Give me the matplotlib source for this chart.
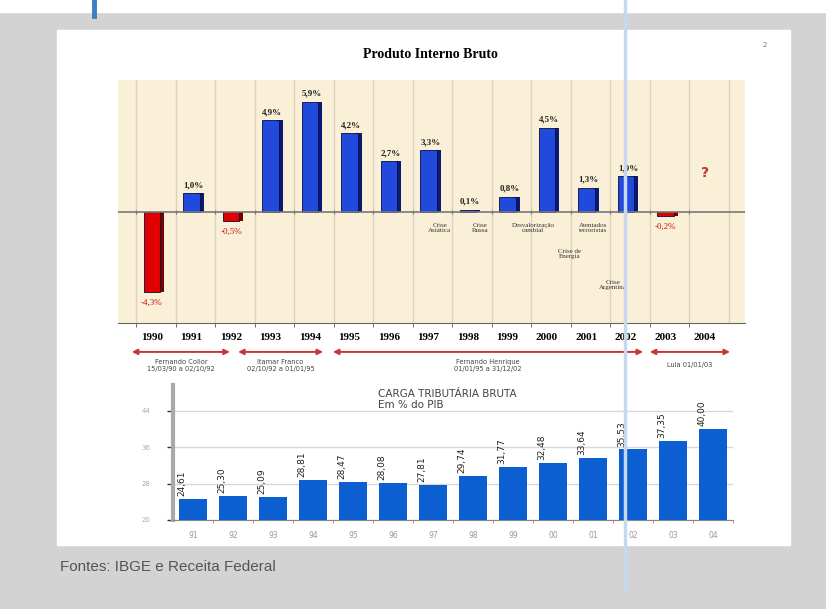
import numpy as np
import matplotlib.pyplot as plt
from matplotlib.patches import Rectangle
from matplotlib.lines import Line2D
import matplotlib.transforms as mtransforms

# PIB (variação anual, %), 1990-2003; 2004 ainda desconhecido
anos = ['1990', '1991', '1992', '1993', '1994', '1995', '1996', '1997',
        '1998', '1999', '2000', '2001', '2002', '2003', '2004']
pib = [-4.3, 1.0, -0.5, 4.9, 5.9, 4.2, 2.7, 3.3, 0.1, 0.8, 4.5, 1.3, 1.9, -0.2]

crises = ['Crise\nAsiática', 'Crise\nRussa', 'Desvalorização\ncambial',
          'Atentados\nterroristas', 'Crise de\nEnergia', 'Crise\nArgentina']

governos = ['Fernando Collor\n15/03/90 a 02/10/92',
            'Itamar Franco\n02/10/92 a 01/01/95',
            'Fernando Henrique\n01/01/95 a 31/12/02',
            'Lula 01/01/03']

# carga tributária bruta (% do PIB)
anos_carga = ['91', '92', '93', '94', '95', '96', '97', '98', '99',
              '00', '01', '02', '03', '04']
carga = [24.61, 25.30, 25.09, 28.81, 28.47, 28.08, 27.81, 29.74, 31.77,
         32.48, 33.64, 35.53, 37.35, 40.00]
carga_ticks = [20, 28, 36, 44]

W, H = 826, 609
fig = plt.figure(figsize=(W / 100, H / 100), dpi=100)

def fx(px):
    return px / W

def fy(py):
    return 1 - py / H

# fundo do slide
bg = fig.add_axes([0, 0, 1, 1])
bg.set_xlim(0, W)
bg.set_ylim(H, 0)
bg.axis('off')
bg.add_patch(Rectangle((0, 0), W, H, color='#d3d3d3', zorder=0))
bg.add_patch(Rectangle((0, 0), W, 12, color='white', zorder=1))
bg.add_patch(Rectangle((57, 30), 733, 515, color='white', zorder=2))
bg.text(765, 45, '2', fontsize=5, color='#777', ha='center', va='center', zorder=3)
bg.text(430, 55, 'Produto Interno Bruto', family='Liberation Serif',
        fontweight='bold', fontsize=10, ha='center', va='center', zorder=3)
bg.text(60, 567, 'Fontes: IBGE e Receita Federal', family='Liberation Sans',
        fontsize=11, color='#555555', ha='left', va='center', zorder=3)

# ---------- grafico do PIB ----------
ax = fig.add_axes([fx(118), fy(323), fx(745) - fx(118), fy(80) - fy(323)])
ax.set_facecolor('#faf0d8')
x = np.arange(len(pib))
ax.set_xlim(-0.86, 15.01)
ax.set_ylim(-5.94, 7.06)

for g in list(np.arange(15) - 0.4) + [14.6]:
    ax.axvline(g, color='#dcd2bf', lw=1, zorder=1)

cores = ['#2149dc' if v >= 0 else '#e00000' for v in pib]
lados = ['#0b1a70' if v >= 0 else '#7a0000' for v in pib]
ax.bar(x + 0.24, pib, width=0.14, color=lados, zorder=2)
ax.bar(x, pib, width=0.42, color=cores, edgecolor='#0a0a40', lw=0.6, zorder=3)
ax.axhline(0, color='#777777', lw=1.2, zorder=4)
ax.vlines(np.arange(15) - 0.4, -0.12, 0.12, color='#777777', lw=0.8, zorder=4)

for i, v in enumerate(pib):
    txt = f'{v:.1f}%'.replace('.', ',')
    if v >= 0:
        ax.annotate(txt, (i + 0.05, v), xytext=(0, 3), textcoords='offset points',
                    ha='center', va='bottom', fontsize=6.5, family='Liberation Serif',
                    fontweight='bold', color='#222222', zorder=5)
    else:
        ax.annotate(txt, (i, v), xytext=(0, -5), textcoords='offset points',
                    ha='center', va='top', fontsize=6.5, family='Liberation Serif',
                    color='#cc1111', zorder=5)
ax.text(14, 2.1, '?', color='#c0392b', fontsize=10, fontweight='bold',
        ha='center', va='center')

pos_crise = [(7.29, -0.86), (8.3, -0.86), (9.65, -0.86), (11.16, -0.86),
             (10.58, -2.25), (11.67, -3.9)]
for t, (cx, cy) in zip(crises, pos_crise):
    ax.text(cx, cy, t, fontsize=5, family='Liberation Serif', color='#333333',
            ha='center', va='center', linespacing=1.1)

ax.set_xticks(np.arange(15))
ax.set_xticklabels(anos, family='Liberation Serif', fontweight='bold', fontsize=8)
ax.tick_params(axis='x', length=0, pad=7)
ax.set_xticks(np.arange(15) - 0.4, minor=True)
ax.tick_params(axis='x', which='minor', length=3, color='#555555')
ax.set_yticks([])
for s in ['top', 'left', 'right']:
    ax.spines[s].set_visible(False)
ax.spines['bottom'].set_color('#666666')

# setas dos governos
tr = mtransforms.blended_transform_factory(ax.transData, ax.transAxes)
spans = [(-0.51, 1.97), (2.18, 4.33), (4.58, 12.43), (12.6, 14.63)]
for (a, b), nome in zip(spans, governos):
    ax.annotate('', xy=(b, -0.119), xytext=(a, -0.119), xycoords=tr,
                arrowprops=dict(arrowstyle='<|-|>', color='#cc3333', lw=1.4,
                                mutation_scale=8, shrinkA=0, shrinkB=0),
                annotation_clip=False)
    ax.text((a + b) / 2, -0.173, nome, transform=tr, fontsize=4.8,
            color='#444444', ha='center', va='center', linespacing=1.2)

# ---------- carga tributária ----------
ax2 = fig.add_axes([fx(173), fy(520), fx(733) - fx(173), fy(385) - fy(520)])
xc = np.arange(len(carga))
ax2.set_xlim(-0.5, 13.45)
ax2.set_ylim(20, 49.7)
ax2.set_yticks(carga_ticks)
ax2.set_yticklabels([str(t) for t in carga_ticks], fontsize=5, color='#aaaaaa')
ax2.tick_params(axis='y', length=4, width=1, color='#333333', pad=12)
ax2.grid(axis='y', color='#d8d8d8', lw=1)
ax2.set_axisbelow(True)
ax2.bar(xc, [c - 20 for c in carga], bottom=20, width=0.7, color='#0b5fd0', zorder=3)
for i, c in enumerate(carga):
    ax2.annotate(f'{c:.2f}'.replace('.', ','), (i - 0.28, c), xytext=(0, 2),
                 textcoords='offset points', rotation=90, ha='center', va='bottom',
                 fontsize=6.5, color='#222222', zorder=4)
ax2.set_xticks(xc)
ax2.set_xticklabels(anos_carga, fontsize=5.5, color='#999999')
ax2.tick_params(axis='x', length=0, pad=8)
ax2.set_xticks(xc + 0.5, minor=True)
ax2.tick_params(axis='x', which='minor', length=2, color='#cc6666')
for s in ['top', 'right']:
    ax2.spines[s].set_visible(False)
ax2.spines['left'].set_color('#a9a9a9')
ax2.spines['left'].set_linewidth(3)
ax2.spines['bottom'].set_color('#888888')
ax2.text(0.49, 0.93, 'CARGA TRIBUTÁRIA BRUTA', transform=ax2.transAxes,
         fontsize=7.5, color='#444444', ha='center', va='center')
ax2.text(0.425, 0.85, 'Em % do PIB', transform=ax2.transAxes,
         fontsize=7.5, color='#444444', ha='center', va='center')

# linhas azuis por cima
fig.add_artist(Line2D([fx(625), fx(625)], [fy(0), fy(590)], color='#c5d9ee',
                      lw=2.5, zorder=10))
fig.add_artist(Line2D([fx(94), fx(94)], [fy(0), fy(16)], color='#3d7dc4',
                      lw=3.5, zorder=10))

fig.savefig('out.png', dpi=100)
